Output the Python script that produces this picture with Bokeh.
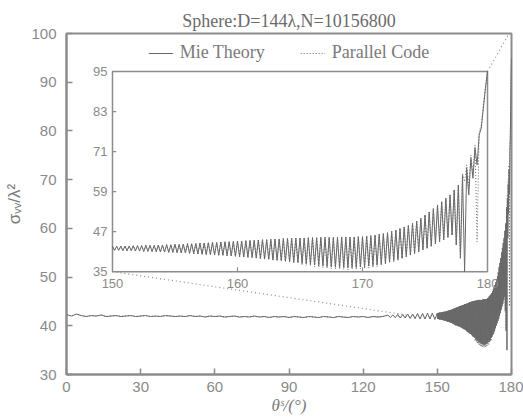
import numpy as np
from bokeh.plotting import figure
from bokeh.models import Range1d, FixedTicker
from bokeh.embed import file_html
from bokeh.resources import INLINE
from bokeh.core.properties import value

# ---------------- data ----------------
x_ticks = [0, 30, 60, 90, 120, 150, 180]
y_ticks = [30, 40, 50, 60, 70, 80, 90, 100]
inset_x_ticks = [150, 160, 170, 180]
inset_y_ticks = [35, 47, 59, 71, 83, 95]

# far-angle samples (main plot only)
theta_far = list(range(0, 130, 2)) + list(range(130, 150))
sigma_far = [
    42.3, 42.0, 42.4, 42.1, 41.9, 42.1, 42.0, 42.2, 41.9, 42.0,
    42.1, 41.9, 42.0, 42.1, 41.9, 42.0, 42.1, 41.9, 42.0, 41.9,
    42.1, 42.0, 41.9, 42.0, 41.9, 42.1, 41.9, 42.0, 41.8, 42.0,
    41.9, 42.0, 41.8, 41.9, 42.0, 41.8, 41.9, 41.8, 42.0, 41.8,
    41.9, 41.7, 41.9, 41.8, 41.9, 41.7, 41.9, 41.8, 41.7, 41.9,
    41.8, 41.7, 41.9, 41.8, 41.7, 41.9, 41.8, 41.7, 41.9, 41.8,
    41.9, 41.7, 41.9, 41.8, 41.9,
    42.2, 41.7, 42.2, 41.7, 42.3, 41.6, 42.3, 41.6, 42.4, 41.5,
    42.4, 41.5, 42.5, 41.4, 42.5, 41.4, 42.6, 41.4, 42.6, 41.3,
]

# back-scatter region, sampled every 1/6 degree from 150 to 180
theta_near = list(np.linspace(150, 180, 181))
mie_near = [
    42.6, 41.4, 42.6, 41.4, 42.7, 41.3,
    42.7, 41.3, 42.7, 41.3, 42.8, 41.2,
    42.8, 41.2, 42.8, 41.1, 42.9, 41.1,
    42.9, 41.0, 42.9, 41.0, 43.0, 40.9,
    43.0, 40.9, 43.1, 40.8, 43.1, 40.8,
    43.2, 40.7, 43.2, 40.6, 43.3, 40.6,
    43.4, 40.5, 43.4, 40.4, 43.5, 40.3,
    43.6, 40.2, 43.6, 40.1, 43.7, 40.1,
    43.8, 40.0, 43.8, 39.9, 43.9, 39.9,
    44.0, 39.8, 44.0, 39.7, 44.1, 39.6,
    44.2, 39.5, 44.2, 39.4, 44.3, 39.3,
    44.4, 39.2, 44.4, 39.1, 44.5, 38.9,
    44.6, 38.8, 44.6, 38.7, 44.7, 38.5,
    44.8, 38.4, 44.8, 38.3, 44.9, 38.1,
    45.0, 38.0, 45.0, 37.8, 45.1, 37.7,
    45.1, 37.5, 45.1, 37.4, 45.2, 37.2,
    45.2, 37.0, 45.2, 36.9, 45.3, 36.8,
    45.3, 36.6, 45.3, 36.5, 45.3, 36.4,
    45.3, 36.3, 45.4, 36.3, 45.4, 36.2,
    45.4, 36.3, 45.4, 36.3, 45.5, 36.4,
    45.5, 36.5, 45.7, 36.7, 45.8, 36.8,
    46.0, 37.0, 46.2, 37.3, 46.4, 37.6,
    46.7, 38.0, 47.1, 38.3, 47.5, 38.6,
    48.0, 39.0, 48.4, 39.5, 48.9, 40.0,
    49.5, 40.5, 50.2, 41.0, 51.0, 41.5,
    52.0, 42.0, 52.9, 42.6, 53.9, 43.3,
    55.0, 44.0, 56.0, 44.6, 57.0, 45.3,
    58.0, 46.0, 59.5, 43.0, 61.0, 39.0,
    64.0, 35.0, 66.0, 58.0, 69.0, 63.0,
    72.0, 67.0, 76.0, 78.0, 84.0, 90.0,
    95.0,
]
parallel_near = [
    42.6, 41.4, 42.6, 41.4, 42.7, 41.3,
    42.7, 41.3, 42.7, 41.3, 42.8, 41.2,
    42.8, 41.2, 42.8, 41.1, 42.9, 41.1,
    42.9, 41.0, 42.9, 41.0, 43.0, 40.9,
    43.0, 40.9, 43.1, 40.8, 43.1, 40.8,
    43.2, 40.7, 43.2, 40.6, 43.3, 40.6,
    43.4, 40.5, 43.4, 40.4, 43.5, 40.3,
    43.6, 40.2, 43.6, 40.1, 43.7, 40.1,
    43.8, 40.0, 43.8, 39.9, 43.9, 39.9,
    44.0, 39.8, 44.0, 39.7, 44.1, 39.6,
    44.2, 39.5, 44.2, 39.4, 44.3, 39.3,
    44.4, 39.2, 44.4, 39.1, 44.5, 38.9,
    44.6, 38.8, 44.6, 38.7, 44.7, 38.5,
    44.8, 38.4, 44.8, 38.3, 44.9, 38.1,
    45.0, 38.0, 45.0, 37.8, 45.1, 37.7,
    45.1, 37.0, 45.1, 36.9, 45.2, 36.7,
    45.2, 36.4, 45.2, 36.3, 45.3, 36.2,
    45.3, 36.0, 45.3, 35.9, 45.3, 35.8,
    45.3, 35.7, 45.4, 35.7, 45.4, 35.6,
    45.4, 35.7, 45.4, 35.7, 45.5, 35.8,
    45.5, 35.9, 45.7, 36.1, 45.8, 36.2,
    46.0, 36.5, 46.2, 36.8, 46.4, 37.1,
    46.7, 37.6, 47.1, 38.0, 47.5, 38.4,
    48.0, 39.0, 48.4, 39.5, 48.9, 40.0,
    49.5, 40.5, 50.2, 41.0, 51.0, 41.5,
    52.0, 42.0, 52.9, 42.6, 53.9, 43.3,
    55.0, 44.0, 56.0, 44.6, 57.0, 45.3,
    58.0, 46.0, 59.5, 43.0, 61.0, 39.0,
    64.5, 62.0, 67.0, 60.0, 70.0, 64.0,
    73.0, 44.0, 77.0, 79.0, 85.0, 90.0,
    95.0,
]

theta_all = theta_far + theta_near
mie_all = sigma_far + mie_near
parallel_all = sigma_far + parallel_near

# ---------------- layout / style ----------------
GRAY = "#8c8c8c"
LINE = "#6a6a6a"
TXT = "#8a8a8a"
inset_x_target = (18.6, 170.3)   # where the inset sits, in main-plot units
inset_y_target = (51.1, 92.2)
link_low_end = (138.0, 42.2)
link_high_end = (179.0, 100.0)

p = figure(frame_width=445, frame_height=341, output_backend="svg", toolbar_location=None,
           x_range=Range1d(0, 180), y_range=Range1d(30, 100),
           min_border_left=66, min_border_right=12, min_border_top=33,
           min_border_bottom=44)
p.title.text = "Sphere:D=144λ,N=10156800"
p.title.align = "center"
p.title.text_font = "Liberation Serif"
p.title.text_font_size = "18px"
p.title.text_font_style = "normal"
p.title.text_color = "#6a6a6a"
p.title.standoff = 5
p.title.offset = 0

p.xgrid.visible = False
p.ygrid.visible = False
p.outline_line_color = GRAY
p.outline_line_width = 2
p.background_fill_color = "white"

p.xaxis.ticker = FixedTicker(ticks=x_ticks)
p.yaxis.ticker = FixedTicker(ticks=y_ticks)
for ax in (p.xaxis[0], p.yaxis[0]):
    ax.axis_line_color = GRAY
    ax.axis_line_width = 2
    ax.major_tick_in = 6
    ax.major_tick_out = 0
    ax.major_tick_line_color = GRAY
    ax.major_tick_line_width = 1.5
    ax.minor_tick_line_color = None
    ax.major_label_text_font = "Liberation Sans"
    ax.major_label_text_font_size = "15px"
    ax.major_label_text_color = TXT
    ax.axis_label_text_color = "#7a7a7a"
    ax.axis_label_text_font_size = "17px"
p.yaxis.major_label_standoff = 10
p.xaxis.major_label_standoff = 7
p.yaxis.axis_label = "σᵥᵥ/λ²"
p.yaxis.axis_label_text_font = "Liberation Sans"
p.yaxis.axis_label_text_font_style = "normal"
p.yaxis.axis_label_standoff = 4
p.xaxis.axis_label = "θˢ/(°)"
p.xaxis.axis_label_text_font = "Liberation Serif"
p.xaxis.axis_label_text_font_style = "italic"
p.xaxis.axis_label_standoff = 1

# main curves
p.line(theta_all, mie_all, line_color=LINE, line_width=1, legend_label="Mie Theory")
p.line(theta_all, parallel_all, line_color=LINE, line_width=1, line_dash="1 2",
       legend_label="Parallel Code")

# dotted links between inset and main plot
p.segment(x0=[inset_x_target[0], inset_x_target[1]], y0=[inset_y_target[0], inset_y_target[1]],
          x1=[link_low_end[0], link_high_end[0]], y1=[link_low_end[1], link_high_end[1]],
          line_color=GRAY, line_width=1.2, line_dash="1 3")

# inset drawn through a sub-coordinate mapping
ins = p.subplot(x_source=Range1d(inset_x_ticks[0], inset_x_ticks[-1]),
                y_source=Range1d(inset_y_ticks[0], inset_y_ticks[-1]),
                x_target=Range1d(*inset_x_target), y_target=Range1d(*inset_y_target))
ins.quad(left=[inset_x_ticks[0]], right=[inset_x_ticks[-1]],
         bottom=[inset_y_ticks[0]], top=[inset_y_ticks[-1]],
         fill_color="white", line_color=GRAY, line_width=1.5)
ins.segment(x0=inset_x_ticks[1:-1], y0=[inset_y_ticks[0]] * 2,
            x1=inset_x_ticks[1:-1], y1=[inset_y_ticks[0] + 1.3] * 2,
            line_color=GRAY, line_width=1.2)
ins.segment(x0=[inset_x_ticks[0]] * 4, y0=inset_y_ticks[1:-1],
            x1=[inset_x_ticks[0] + 0.3] * 4, y1=inset_y_ticks[1:-1],
            line_color=GRAY, line_width=1.2)
ins.line(theta_near, mie_near, line_color=LINE, line_width=1)
ins.line(theta_near, parallel_near, line_color=LINE, line_width=1, line_dash="1 2")
ins.text(x=inset_x_ticks, y=[inset_y_ticks[0]] * 4, text=[str(t) for t in inset_x_ticks],
         text_align="center", text_baseline="top", y_offset=7,
         text_font=value("Liberation Sans"), text_font_size="13px", text_color=TXT)
ins.text(x=[inset_x_ticks[0]] * 6, y=inset_y_ticks, text=[str(t) for t in inset_y_ticks],
         text_align="right", text_baseline="middle", x_offset=-5,
         text_font=value("Liberation Sans"), text_font_size="13px", text_color=TXT)

lg = p.legend[0]
lg.location = "top_center"
lg.orientation = "horizontal"
lg.border_line_color = None
lg.background_fill_alpha = 0
lg.label_text_font = "Liberation Serif"
lg.label_text_font_size = "18px"
lg.label_text_color = "#7a7a7a"
lg.glyph_width = 25
lg.label_standoff = 7
lg.spacing = 35
lg.padding = 0
lg.margin = 9

open("out.html", "w").write(file_html(p, INLINE))
